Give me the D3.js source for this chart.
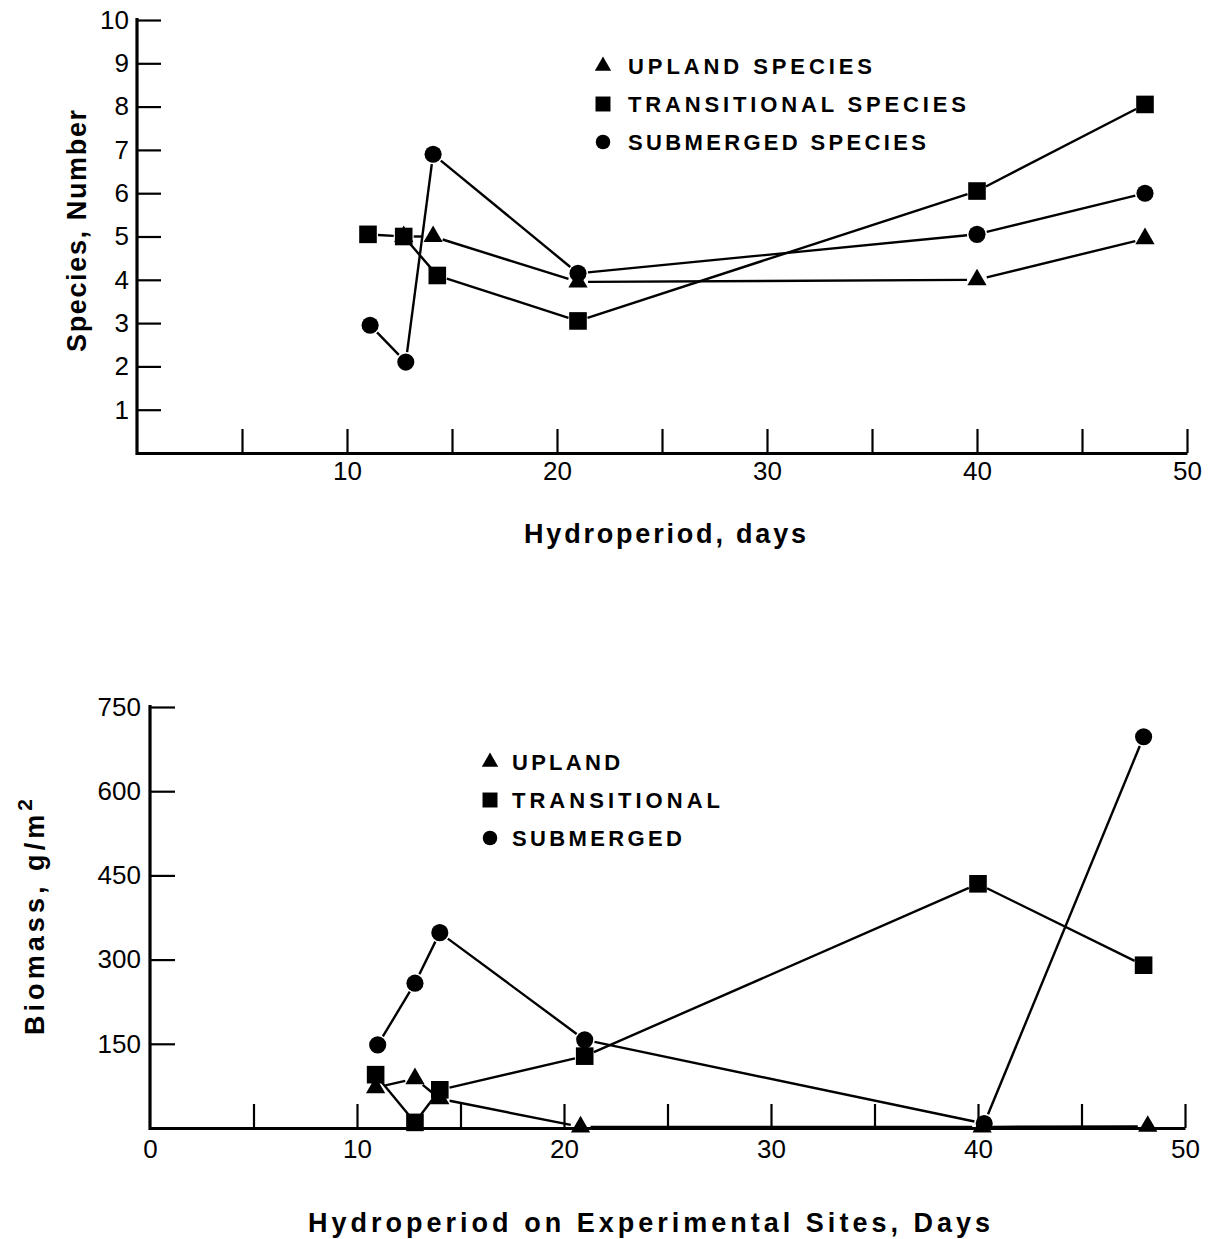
<!DOCTYPE html>
<html>
<head>
<meta charset="utf-8">
<script src="https://cdn.jsdelivr.net/npm/d3@7"></script>
<style>
body { margin: 0; background: #fff; }
text { fill: #000; }
</style>
</head>
<body>
<svg id="chart" width="1214" height="1239"></svg>
<script>

// top panel: number of species vs hydroperiod (days)
var upSpDays = [12.7, 14.1, 21, 40, 48];
var upSpCount = [5, 5, 3.95, 4, 4.95];
var trSpDays = [11, 12.7, 14.3, 21, 40, 48];
var trSpCount = [5.05, 5, 4.1, 3.05, 6.05, 8.05];
var subSpDays = [11.1, 12.8, 14.1, 21, 40, 48];
var subSpCount = [2.95, 2.1, 6.9, 4.15, 5.05, 6];

// bottom panel: biomass g/m2 vs hydroperiod
var upBmDays = [10.9, 12.8, 14, 20.8, 40.2, 48.2];
var upBmVal = [72, 88, 52, 2, 2, 3];
var trBmDays = [10.9, 12.8, 14, 21, 40, 48];
var trBmVal = [95, 10, 68, 128, 435, 290];
var subBmDays = [11, 12.8, 14, 21, 40.3, 48];
var subBmVal = [148, 258, 348, 157, 8, 697];

var topYTicks = [1, 2, 3, 4, 5, 6, 7, 8, 9, 10];
var botYTicks = [150, 300, 450, 600, 750];
var xTicks = [5, 10, 15, 20, 25, 30, 35, 40, 45, 50];
var botXTicks = [0, 5, 10, 15, 20, 25, 30, 35, 40, 45, 50];

var topLegend = ["UPLAND SPECIES", "TRANSITIONAL SPECIES", "SUBMERGED SPECIES"];
var botLegend = ["UPLAND", "TRANSITIONAL", "SUBMERGED"];

var svg = d3.select("#chart");
svg.append("rect").attr("width", 1214).attr("height", 1239).attr("fill", "#fff");

var tickFont = "'Liberation Sans', Arial, sans-serif";
var boldFont = "'Liberation Sans', Arial, sans-serif";

var shapes = {
    up: d3.symbol().type(d3.symbolTriangle).size(160),
    tr: d3.symbol().type(d3.symbolSquare).size(310),
    sub: d3.symbol().type(d3.symbolCircle).size(230)
};

// spread letters so a text runs over w pixels
function spread(t, w) {
    var n = t.text().length;
    var L = t.node().getComputedTextLength();
    t.attr("letter-spacing", ((w - L) / (n - 1)).toFixed(2));
}

// line segments with a small gap at each marker, like the hand drawn original
function drawSeries(g, days, vals, x, y) {
    var pts = days.map(function (d, i) { return [x(d), y(vals[i])]; });
    var gap = 10;
    for (var i = 0; i < pts.length - 1; i++) {
        var a = pts[i], b = pts[i + 1];
        var dx = b[0] - a[0], dy = b[1] - a[1];
        var len = Math.sqrt(dx * dx + dy * dy);
        if (len < 2 * gap + 2) continue;
        var ux = dx / len, uy = dy / len;
        g.append("line")
            .attr("x1", a[0] + ux * gap).attr("y1", a[1] + uy * gap)
            .attr("x2", b[0] - ux * gap).attr("y2", b[1] - uy * gap)
            .attr("stroke", "#000").attr("stroke-width", 2.4);
    }
    return pts;
}

function drawMarks(g, pts, key) {
    g.selectAll(null).data(pts).enter().append("path")
        .attr("d", shapes[key]())
        .attr("transform", function (p) { return "translate(" + p[0] + "," + p[1] + ")"; })
        .attr("fill", "#000");
}

function styleAxis(g, w) {
    g.select(".domain").attr("stroke", "#000").attr("stroke-width", w);
    g.selectAll(".tick line").attr("stroke", "#000").attr("stroke-width", 2.2);
    g.selectAll(".tick text").attr("font-family", tickFont).attr("font-size", 26).attr("fill", "#000");
}

// ---------- top panel ----------
var x1 = d3.scaleLinear().domain([0, 50]).range([137, 1187]);
var y1 = d3.scaleLinear().domain([0, 10]).range([453, 20]);

var topG = svg.append("g");
var ax1 = topG.append("g").attr("transform", "translate(0,453)")
    .call(d3.axisBottom(x1).tickValues(xTicks).tickSize(-24).tickSizeOuter(0).tickPadding(9)
        .tickFormat(function (d) { return d % 10 === 0 ? d : ""; }));
styleAxis(ax1, 3.2);
var ay1 = topG.append("g").attr("transform", "translate(137,0)")
    .call(d3.axisLeft(y1).tickValues(topYTicks).tickSize(-24).tickSizeOuter(0).tickPadding(8));
ay1.select(".domain").attr("d", "M0,455V18");
styleAxis(ay1, 3.2);

var pUp1 = drawSeries(topG, upSpDays, upSpCount, x1, y1);
var pTr1 = drawSeries(topG, trSpDays, trSpCount, x1, y1);
var pSub1 = drawSeries(topG, subSpDays, subSpCount, x1, y1);
drawMarks(topG, pSub1, "sub");
drawMarks(topG, pUp1, "up");
drawMarks(topG, pTr1, "tr");

var legKeys = ["up", "tr", "sub"];
var topLegW = [244, 338, 298];
topLegend.forEach(function (name, i) {
    var cy = 66 + i * 38;
    topG.append("path").attr("d", shapes[legKeys[i]]())
        .attr("transform", "translate(603," + cy + ") scale(0.85)").attr("fill", "#000");
    var t = topG.append("text").attr("x", 628).attr("y", cy + 8)
        .attr("font-family", boldFont).attr("font-weight", "bold").attr("font-size", 22)
        .text(name);
    spread(t, topLegW[i]);
});

var yt1 = topG.append("text").attr("transform", "translate(86,352) rotate(-90)")
    .attr("font-family", boldFont).attr("font-weight", "bold").attr("font-size", 27)
    .text("Species, Number");
spread(yt1, 242);

var xt1 = topG.append("text").attr("x", 524).attr("y", 543)
    .attr("font-family", boldFont).attr("font-weight", "bold").attr("font-size", 27)
    .text("Hydroperiod, days");
spread(xt1, 282);

// ---------- bottom panel ----------
var x2 = d3.scaleLinear().domain([0, 50]).range([150, 1185]);
var y2 = d3.scaleLinear().domain([0, 750]).range([1128, 707]);

var botG = svg.append("g");
var ax2 = botG.append("g").attr("transform", "translate(0,1128)")
    .call(d3.axisBottom(x2).tickValues(botXTicks).tickSize(-24).tickSizeOuter(0).tickPadding(12)
        .tickFormat(function (d) { return d % 10 === 0 ? d : ""; }));
ax2.selectAll(".tick").filter(function (d) { return d === 0; }).select("line").remove();
styleAxis(ax2, 3.2);
var ay2 = botG.append("g").attr("transform", "translate(150,0)")
    .call(d3.axisLeft(y2).tickValues(botYTicks).tickSize(-25).tickSizeOuter(0).tickPadding(9));
ay2.select(".domain").attr("d", "M0,1130V705");
styleAxis(ay2, 3.2);

var pUp2 = drawSeries(botG, upBmDays, upBmVal, x2, y2);
var pTr2 = drawSeries(botG, trBmDays, trBmVal, x2, y2);
var pSub2 = drawSeries(botG, subBmDays, subBmVal, x2, y2);
drawMarks(botG, pUp2, "up");
drawMarks(botG, pSub2, "sub");
drawMarks(botG, pTr2, "tr");

var botLegW = [108, 208, 170];
botLegend.forEach(function (name, i) {
    var cy = 762 + i * 38;
    botG.append("path").attr("d", shapes[legKeys[i]]())
        .attr("transform", "translate(490," + cy + ") scale(0.85)").attr("fill", "#000");
    var t = botG.append("text").attr("x", 512).attr("y", cy + 8)
        .attr("font-family", boldFont).attr("font-weight", "bold").attr("font-size", 22)
        .text(name);
    spread(t, botLegW[i]);
});

var yt2 = botG.append("text").attr("transform", "translate(44,1035) rotate(-90)")
    .attr("font-family", boldFont).attr("font-weight", "bold").attr("font-size", 27);
yt2.append("tspan").text("Biomass, g/m");
yt2.append("tspan").attr("font-size", 21).attr("dy", -12).text("2");
spread(yt2, 236);

var xt2 = botG.append("text").attr("x", 308).attr("y", 1232)
    .attr("font-family", boldFont).attr("font-weight", "bold").attr("font-size", 27)
    .text("Hydroperiod on Experimental Sites, Days");
spread(xt2, 682);

</script>
</body>
</html>
